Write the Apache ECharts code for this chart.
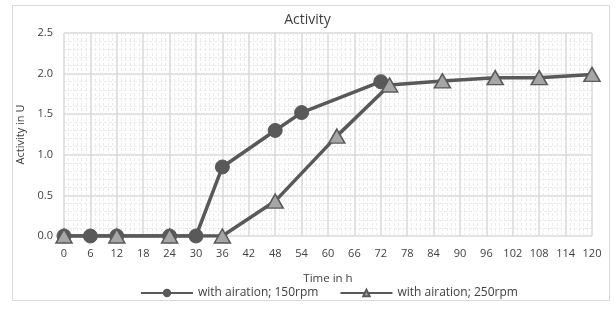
<!DOCTYPE html>
<html><head><meta charset="utf-8">
<script src="https://cdn.jsdelivr.net/npm/echarts@6/dist/echarts.min.js"></script>
<style>html,body{margin:0;padding:0;background:#fff}#c{width:615px;height:311px}</style>
</head><body><div id="c"></div>
<script>
const title = 'Activity';
const xName = 'Time in h';
const yName = 'Activity in U';
const s1Name = 'with airation; 150rpm';
const s1X = [0, 6, 12, 24, 30, 36, 48, 54, 72];
const s1Y = [0, 0, 0, 0, 0, 0.85, 1.3, 1.52, 1.9];
const s2Name = 'with airation; 250rpm';
const s2X = [0, 12, 24, 36, 48, 62, 74, 86, 98, 108, 120];
const s2Y = [0, 0, 0, 0, 0.43, 1.23, 1.86, 1.91, 1.95, 1.95, 1.99];

const font = 'Open Sans';
const chart = echarts.init(document.getElementById('c'), null, {renderer: 'canvas'});
chart.setOption({
  animation: false,
  backgroundColor: '#fff',
  title: {text: title, left: 'center', top: 8, textStyle: {fontFamily: font, fontSize: 14, fontWeight: 'normal', color: '#404040'}},
  graphic: [{type: 'rect', shape: {x: 12.5, y: 5.5, width: 597, height: 295}, style: {fill: 'none', stroke: '#d9d9d9', lineWidth: 1}, z: -10}],
  grid: {left: 64, right: 23, top: 33, bottom: 75},
  legend: {
    bottom: 7, left: 135, itemGap: 21, itemWidth: 52, itemHeight: 8,
    textStyle: {fontFamily: font, fontSize: 12, color: '#404040'},
    data: [s1Name, s2Name]
  },
  xAxis: {
    type: 'value', min: 0, max: 120, interval: 6,
    name: xName, nameLocation: 'middle', nameGap: 37,
    nameTextStyle: {fontFamily: font, fontSize: 11.5, color: '#404040'},
    axisLine: {show: false}, axisTick: {show: false},
    axisLabel: {fontFamily: font, fontSize: 11, color: '#404040', margin: 12},
    splitLine: {show: true, lineStyle: {color: '#d9d9d9', width: 1.5}},
    minorTick: {show: false, splitNumber: 6},
    minorSplitLine: {show: true, lineStyle: {color: '#ebebeb', width: 1, type: [3, 2]}}
  },
  yAxis: {
    type: 'value', min: 0, max: 2.5, interval: 0.5,
    name: yName, nameLocation: 'middle', nameGap: 31, nameRotate: 90,
    nameTextStyle: {fontFamily: font, fontSize: 11, color: '#404040'},
    axisLine: {show: false}, axisTick: {show: false},
    axisLabel: {fontFamily: font, fontSize: 11, color: '#404040', margin: 11, formatter: v => v.toFixed(1)},
    splitLine: {show: true, lineStyle: {color: '#d9d9d9', width: 1.5}},
    minorTick: {show: false, splitNumber: 5},
    minorSplitLine: {show: true, lineStyle: {color: '#ebebeb', width: 1, type: [3, 2]}}
  },
  series: [
    {
      name: s1Name, type: 'line', data: s1X.map((x, i) => [x, s1Y[i]]),
      symbol: 'circle', symbolSize: 14,
      lineStyle: {color: '#595959', width: 3.5},
      itemStyle: {color: '#595959', borderColor: '#595959', borderWidth: 1}, z: 2
    },
    {
      name: s2Name, type: 'line', data: s2X.map((x, i) => [x, s2Y[i]]),
      symbol: 'triangle', symbolSize: [16, 14],
      lineStyle: {color: '#595959', width: 3.5},
      itemStyle: {color: '#a6a6a6', borderColor: '#595959', borderWidth: 1.5}, z: 3
    }
  ]
});
</script></body></html>
